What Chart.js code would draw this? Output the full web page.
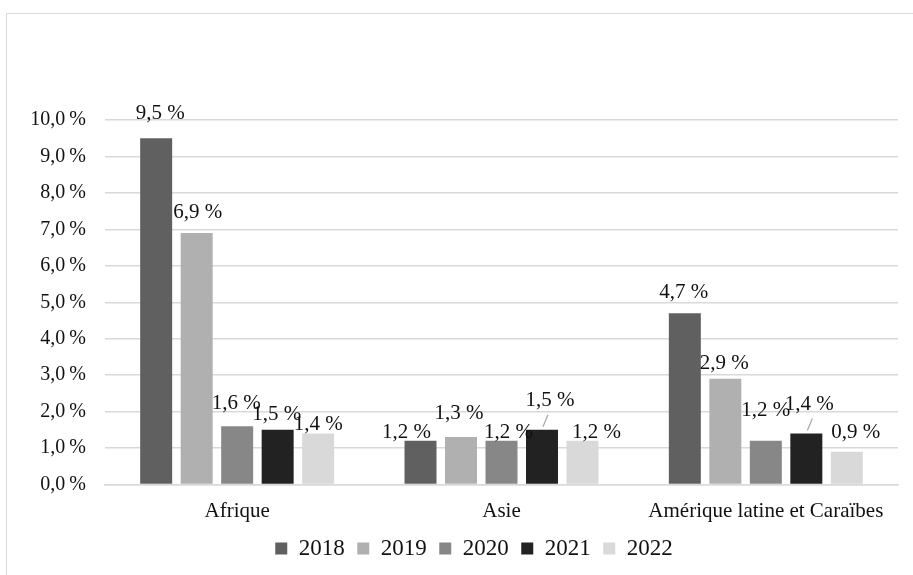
<!DOCTYPE html>
<html>
<head>
<meta charset="utf-8">
<script src="https://cdn.jsdelivr.net/npm/chart.js@4/dist/chart.umd.min.js"></script>
<style>
  html, body { margin: 0; padding: 0; background: #fff; }
  body { width: 913px; height: 575px; overflow: hidden; position: relative; }
  #frame { position: absolute; left: 6px; top: 13px; width: 940px; height: 620px; border: 1.5px solid #d9d9d9; box-sizing: border-box; }
  #wrap { position: absolute; left: 0; top: 0; width: 913px; height: 575px; }
</style>
</head>
<body>
<div id="frame"></div>
<div id="wrap"><canvas id="c" width="913" height="575"></canvas></div>
<script>
const categories = ["Afrique", "Asie", "Amérique latine et Caraïbes"];
const years = ["2018", "2019", "2020", "2021", "2022"];
const v2018 = [9.5, 1.2, 4.7];
const v2019 = [6.9, 1.3, 2.9];
const v2020 = [1.6, 1.2, 1.2];
const v2021 = [1.5, 1.5, 1.4];
const v2022 = [1.4, 1.2, 0.9];
const yTicks = [0, 1, 2, 3, 4, 5, 6, 7, 8, 9, 10];

const seriesValues = [v2018, v2019, v2020, v2021, v2022];
const colors = ["#606060", "#b0b0b0", "#878787", "#222222", "#d9d9d9"];

// label placement tweaks (pixels relative to bar top centre), per series per category
const labelOffsets = [
  [[4, -25], [-14, -8], [-1, -21]],
  [[1, -21], [-2, -24], [-1, -15]],
  [[-1, -23], [7, -8], [0, -30]],
  [[-1, -15], [8, -29], [3, -29]],
  [[0, -9], [14, -8], [9, -19]]
];
const leaders = [[3, 1], [3, 2]]; // [series, category] with leader lines

const fmt = v => v.toFixed(1).replace('.', ',') + ' %';
const serif = "'Liberation Serif', 'DejaVu Serif', serif";

const labelPlugin = {
  id: 'barLabels',
  afterLayout(chart) {
    if (chart.legend) { chart.legend.left += 25; chart.legend.right += 25; }
  },
  afterDatasetsDraw(chart) {
    const ctx = chart.ctx;
    ctx.save();
    ctx.font = "21px " + serif;
    ctx.fillStyle = "#111";
    ctx.textAlign = "center";
    ctx.textBaseline = "middle";
    chart.data.datasets.forEach((ds, si) => {
      const meta = chart.getDatasetMeta(si);
      meta.data.forEach((bar, ci) => {
        const off = labelOffsets[si][ci];
        ctx.fillText(fmt(ds.data[ci]), bar.x + off[0], bar.y + off[1]);
      });
    });
    ctx.strokeStyle = "#a6a6a6";
    ctx.lineWidth = 1.2;
    leaders.forEach(([si, ci]) => {
      const bar = chart.getDatasetMeta(si).data[ci];
      ctx.beginPath();
      ctx.moveTo(bar.x + 1, bar.y - 3);
      ctx.lineTo(bar.x + 6, bar.y - 15);
      ctx.stroke();
    });
    ctx.restore();
  }
};

new Chart(document.getElementById('c'), {
  type: 'bar',
  data: {
    labels: categories,
    datasets: years.map((y, i) => ({
      label: y,
      data: seriesValues[i],
      backgroundColor: colors[i],
      borderWidth: 0,
      categoryPercentage: 0.766,
      barPercentage: 0.79
    }))
  },
  options: {
    responsive: false,
    animation: false,
    devicePixelRatio: 1,
    layout: { padding: { left: 0, right: 15, top: 120, bottom: 5 } },
    plugins: {
      tooltip: { enabled: false },
      legend: {
        position: 'bottom',
        labels: {
          boxWidth: 12, boxHeight: 12, padding: 12.5,
          color: "#111",
          font: { family: serif, size: 23 }
        }
      }
    },
    scales: {
      x: {
        afterFit(scale) { scale.height = 40; },
        grid: { display: false, drawTicks: false },
        border: { display: true, color: "#d9d9d9", width: 1.5 },
        ticks: { color: "#111", font: { family: serif, size: 21 }, padding: 14 }
      },
      y: {
        min: 0, max: 10,
        afterBuildTicks(scale) { scale.ticks = yTicks.map(v => ({ value: v })); },
        afterFit(scale) { scale.width = 105; },
        grid: { color: "#d9d9d9", lineWidth: 1.5, drawTicks: false },
        border: { display: false },
        ticks: {
          color: "#111",
          font: { family: serif, size: 20 },
          padding: 19,
          callback: v => v.toFixed(1).replace('.', ',') + '\u2009%'
        }
      }
    }
  },
  plugins: [labelPlugin]
});
</script>
</body>
</html>
